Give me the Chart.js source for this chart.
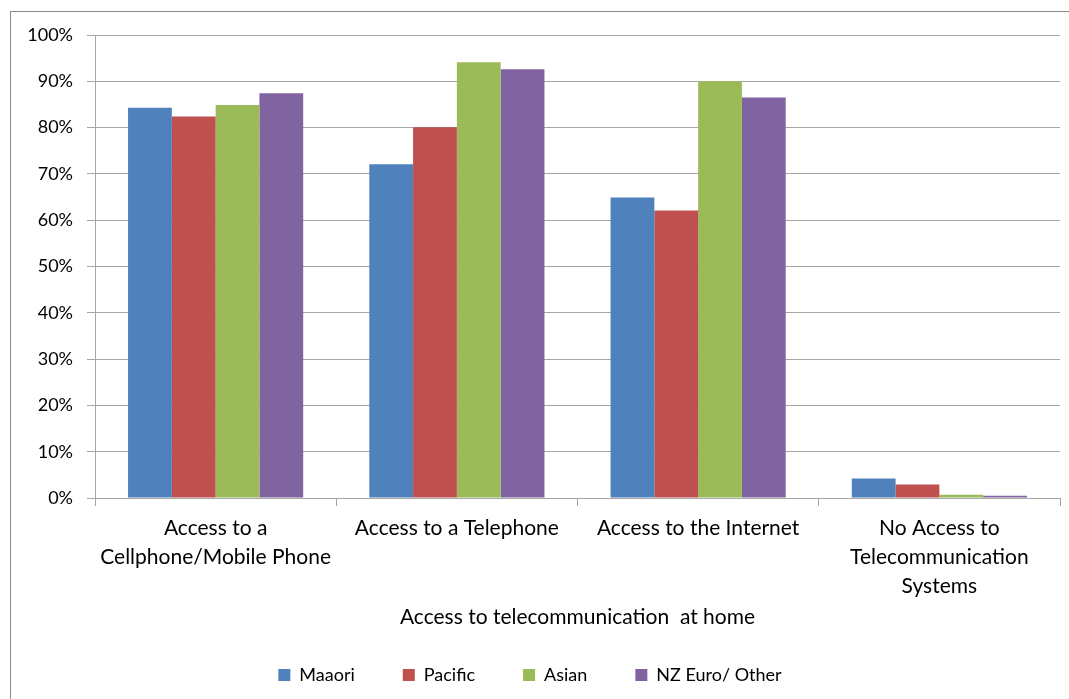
<!DOCTYPE html>
<html>
<head>
<meta charset="utf-8">
<script src="https://cdn.jsdelivr.net/npm/chart.js@4/dist/chart.umd.min.js"></script>
<style>
  html, body { margin: 0; padding: 0; background: #fff; overflow: hidden; }
  #frame { position: absolute; left: 10px; top: 11px; width: 1100px; height: 720px; border: 1px solid #8c8c8c; }
  #chart { position: absolute; left: 0; top: 0; }
</style>
</head>
<body>
<div id="frame"></div>
<canvas id="chart" width="1069" height="699"></canvas>
<script>
// categorias e valores (%)
const categories = [
    ['Access to a', 'Cellphone/Mobile Phone'],
    'Access to a Telephone',
    'Access to the Internet',
    ['No Access to', 'Telecommunication', 'Systems']
];
const maaori  = [84.3, 72.1, 64.9, 4.2];
const pacific = [82.4, 80.1, 62.1, 2.9];
const asian   = [84.9, 94.1, 90.0, 0.7];
const nzEuro  = [87.4, 92.6, 86.5, 0.5];
const yTicks = [0, 10, 20, 30, 40, 50, 60, 70, 80, 90, 100];

const font = 'Lato, "Open Sans", sans-serif';
const gridColor = '#a6a6a6';

document.addEventListener('DOMContentLoaded', function() {
    const ctx = document.getElementById('chart');
    new Chart(ctx, {
        type: 'bar',
        data: {
            labels: categories,
            datasets: [
                { label: 'Maaori', data: maaori, backgroundColor: '#4f81bd' },
                { label: 'Pacific', data: pacific, backgroundColor: '#c0504d' },
                { label: 'Asian', data: asian, backgroundColor: '#9bbb59' },
                { label: 'NZ Euro/ Other', data: nzEuro, backgroundColor: '#8064a2' }
            ]
        },
        options: {
            responsive: false,
            devicePixelRatio: 1,
            animation: false,
            datasets: { bar: { barPercentage: 1.0, categoryPercentage: 0.726 } },
            layout: { padding: { top: 35, right: 9, left: 0, bottom: 5 } },
            plugins: {
                tooltip: { enabled: false },
                legend: {
                    position: 'bottom',
                    labels: {
                        color: '#000',
                        font: { family: font, size: 18 },
                        boxWidth: 12,
                        boxHeight: 12,
                        padding: 48
                    }
                }
            },
            scales: {
                x: {
                    grid: { display: true, drawOnChartArea: false, tickLength: 8, color: gridColor, offset: true },
                    border: { color: gridColor, width: 1 },
                    ticks: {
                        color: '#000',
                        maxRotation: 0,
                        autoSkip: false,
                        padding: 8,
                        font: { family: font, size: 21, lineHeight: 1.381 }
                    },
                    title: {
                        display: true,
                        text: 'Access to telecommunication  at home',
                        color: '#000',
                        font: { family: font, size: 21 },
                        padding: { top: 4, bottom: -12 }
                    },
                    afterFit: function(scale) { scale.height = 120; }
                },
                y: {
                    min: 0,
                    max: 100,
                    afterBuildTicks: function(scale) {
                        scale.ticks = yTicks.map(v => ({ value: v }));
                    },
                    grid: { color: gridColor, tickLength: 8 },
                    border: { color: gridColor, width: 1 },
                    ticks: {
                        color: '#000',
                        padding: 14,
                        font: { family: font, size: 18 },
                        callback: v => v + '%'
                    },
                    afterFit: function(scale) { scale.width = 95; }
                }
            }
        }
    });
});
</script>
</body>
</html>
